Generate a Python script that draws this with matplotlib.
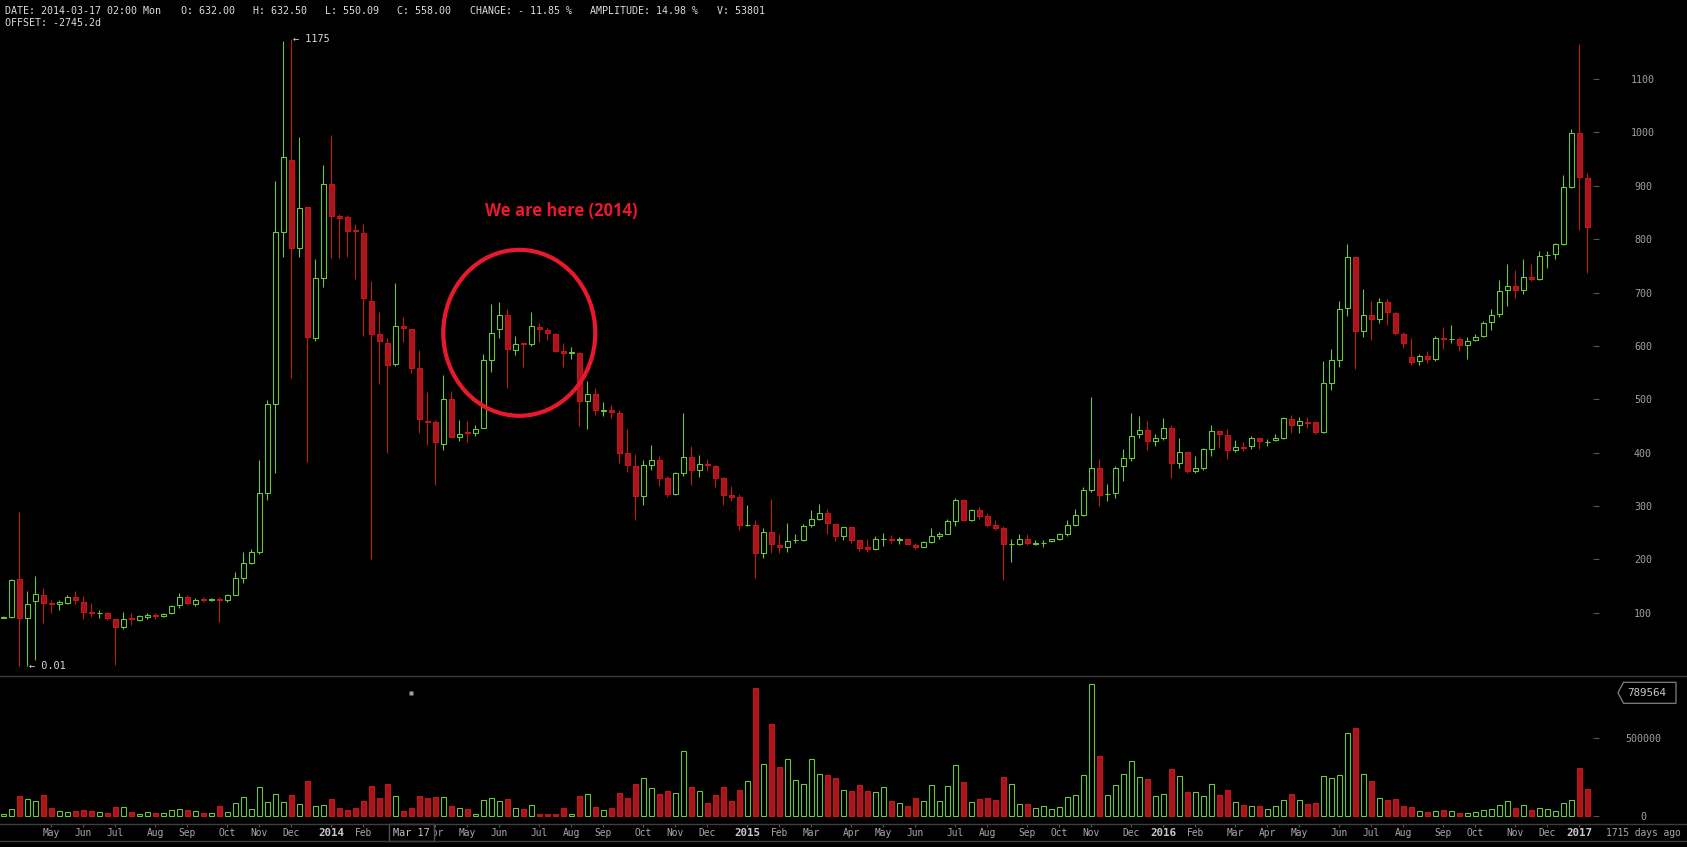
import numpy as np
import pandas as pd
import matplotlib
matplotlib.use("Agg")
import matplotlib.pyplot as plt
import matplotlib.transforms as mtransforms
from matplotlib.lines import Line2D
from matplotlib.patches import Ellipse, Rectangle, Polygon

# weekly OHLC, one candle per week starting 2013-03-25
opens = [91, 92, 163, 90, 122, 133, 118, 117, 119, 129,
         121, 102, 99, 100, 88, 74, 90, 86, 92, 95,
         94, 99, 114, 129, 117, 125, 123, 126, 123, 133,
         166, 194, 214, 324, 492, 814, 949, 784, 860, 614,
         727, 904, 843, 841, 817, 812, 685, 622, 605, 566,
         637, 632, 558, 460, 457, 417, 500, 430, 438, 437,
         447, 574, 632, 657, 593, 606, 603, 636, 630, 623,
         590, 587, 586, 497, 509, 478, 480, 475, 399, 374,
         319, 377, 387, 352, 323, 362, 391, 368, 379, 374,
         352, 320, 316, 264, 265, 211, 252, 226, 224, 236,
         237, 264, 276, 286, 267, 243, 260, 236, 224, 219,
         238, 239, 237, 239, 227, 224, 233, 244, 248, 272,
         311, 274, 292, 281, 264, 258, 228, 229, 239, 229,
         230, 234, 238, 247, 264, 284, 330, 372, 322, 325,
         374, 390, 434, 442, 422, 427, 447, 381, 401, 366,
         372, 407, 440, 433, 404, 411, 412, 427, 419, 423,
         428, 463, 451, 458, 457, 438, 530, 574, 671, 766,
         627, 657, 650, 682, 661, 622, 579, 572, 581, 575,
         614, 612, 612, 602, 611, 618, 644, 659, 704, 713,
         704, 729, 725, 770, 772, 791, 898, 999, 915]
highs = [93, 163, 289, 141, 168, 147, 124, 123, 133, 141,
         131, 119, 106, 101, 89, 101, 99, 95, 99, 99,
         100, 115, 137, 133, 128, 129, 128, 129, 135, 177,
         214, 220, 387, 498, 909, 1171, 1175, 992, 863, 762,
         939, 996, 848, 845, 829, 829, 722, 663, 614, 718,
         654, 632.5, 593, 513, 461, 545, 515, 462, 459, 451,
         584, 678, 683, 670, 618, 607, 663, 642, 633, 625,
         605, 597, 589, 534, 522, 495, 489, 479, 445, 397,
         386, 414, 394, 357, 364, 474, 412, 396, 388, 377,
         355, 337, 322, 302, 274, 259, 314, 247, 268, 247,
         266, 292, 304, 294, 269, 261, 262, 236, 238, 244,
         249, 246, 241, 240, 231, 234, 259, 251, 276, 315,
         312, 295, 298, 287, 274, 262, 238, 248, 248, 236,
         237, 239, 249, 274, 294, 335, 504, 388, 341, 375,
         407, 474, 469, 459, 435, 465, 451, 427, 401, 394,
         409, 452, 442, 444, 424, 420, 432, 428, 426, 435,
         466, 471, 466, 466, 458, 571, 595, 684, 790, 766,
         707, 684, 690, 687, 663, 626, 615, 584, 590, 618,
         636, 640, 616, 616, 622, 646, 670, 723, 753, 743,
         763, 754, 777, 778, 793, 921, 1007, 1166, 924]
lows = [90, 91, 1, 0.01, 12, 80, 99, 105, 116, 117,
        89, 92, 91, 86, 2, 69, 77, 84, 89, 88,
        92, 97, 109, 115, 113, 120, 122, 83, 121, 133,
        156, 191, 210, 312, 361, 767, 539, 767, 382, 609,
        711, 764, 765, 767, 726, 619, 200, 528, 399, 562,
        607, 550.09, 437, 414, 339, 405, 429, 422, 419, 432,
        446, 552, 615, 522, 582, 561, 599, 608, 611, 589,
        560, 575, 450, 444, 470, 469, 464, 381, 364, 274,
        301, 367, 338, 316, 321, 357, 339, 355, 366, 336,
        302, 309, 255, 262, 166, 203, 211, 211, 214, 230,
        235, 260, 274, 247, 234, 236, 230, 216, 214, 218,
        225, 231, 229, 227, 220, 223, 231, 238, 247, 262,
        271, 272, 276, 261, 255, 161, 195, 226, 227, 227,
        224, 232, 237, 244, 262, 281, 327, 300, 310, 315,
        346, 384, 428, 405, 413, 424, 353, 372, 361, 362,
        368, 394, 409, 388, 402, 403, 407, 407, 412, 421,
        426, 436, 436, 446, 434, 436, 517, 561, 656, 556,
        616, 611, 643, 640, 621, 596, 565, 564, 568, 572,
        595, 605, 591, 575, 609, 616, 629, 654, 675, 689,
        698, 722, 723, 746, 763, 789, 895, 817, 737]
closes = [92, 161, 90, 117, 135, 118, 116, 121, 129, 124,
          101, 100, 100, 90, 74, 89, 88, 93, 96, 94,
          98, 113, 129, 118, 124, 123, 126, 124, 133, 166,
          194, 214, 324, 492, 814, 953, 784, 858, 616, 727,
          904, 843, 840, 816, 815, 689, 622, 609, 565, 637,
          633, 558, 463, 458, 419, 500, 430, 434, 436, 445,
          573, 625, 657, 595, 603, 604, 637, 631, 625, 590,
          586, 588, 497, 509, 479, 480, 477, 400, 377, 319,
          376, 387, 353, 323, 362, 391, 368, 378, 377, 353,
          321, 317, 264, 265, 211, 252, 228, 224, 234, 237,
          262, 275, 286, 269, 243, 260, 236, 222, 220, 239,
          239, 236, 239, 229, 224, 232, 243, 247, 271, 311,
          274, 292, 282, 264, 259, 228, 229, 239, 231, 230,
          231, 238, 247, 264, 284, 330, 372, 321, 323, 372,
          390, 432, 442, 422, 427, 447, 381, 401, 366, 371,
          407, 440, 434, 404, 410, 409, 427, 422, 420, 428,
          464, 451, 459, 456, 438, 530, 574, 670, 766, 627,
          657, 650, 682, 663, 624, 605, 570, 581, 575, 615,
          612, 613, 601, 610, 616, 642, 657, 702, 713, 704,
          729, 725, 768, 771, 790, 897, 999, 916, 822]
# volume in thousands
volumes_k = [12, 45, 130, 110, 97, 136, 52, 32, 26, 32,
             39, 32, 26, 19, 55, 55, 26, 13, 26, 19,
             19, 39, 45, 39, 32, 19, 19, 65, 26, 84,
             123, 45, 188, 91, 143, 91, 136, 78, 224, 65,
             71, 110, 52, 39, 52, 97, 192, 117, 205, 130,
             32, 53.801, 130, 114, 120, 120, 62, 49, 45, 12,
             101, 114, 94, 107, 49, 45, 69, 12, 12, 12,
             49, 12, 127, 139, 56, 36, 49, 146, 114, 204,
             243, 178, 139, 159, 146, 416, 185, 159, 82, 133,
             185, 94, 165, 223, 822, 335, 592, 315, 365, 232,
             204, 365, 270, 263, 245, 167, 161, 200, 161, 152,
             187, 97, 82, 64, 116, 97, 200, 97, 193, 328,
             219, 90, 109, 116, 103, 251, 206, 77, 77, 52,
             64, 45, 58, 122, 135, 264, 850, 386, 135, 200,
             270, 354, 251, 238, 129, 142, 303, 258, 155, 155,
             129, 206, 135, 167, 90, 71, 64, 64, 45, 64,
             103, 141, 103, 77, 83, 256, 244, 263, 535, 567,
             269, 224, 115, 103, 109, 64, 58, 32, 26, 32,
             38, 32, 19, 19, 26, 38, 45, 71, 96, 51,
             71, 38, 51, 45, 32, 83, 103, 311, 173]

price_ticks = [100, 200, 300, 400, 500, 600, 700, 800, 900, 1000, 1100]
vol_ticks = [0, 500000]
vol_label = "789564"
cursor_week = 51
header = [("DATE: 2014-03-17 02:00 Mon", 5), ("O: 632.00", 181), ("H: 632.50", 252.6),
          ("L: 550.09", 325), ("C: 558.00", 397), ("CHANGE: - 11.85 %", 470),
          ("AMPLITUDE: 14.98 %", 590), ("V: 53801", 717)]

GREEN = "#6cc83a"
RED = "#c4161c"
RED_FILL = "#a8141a"
GRID = "#3e3e3e"
MONO = "DejaVu Sans Mono"

o = np.array(opens, float)
h = np.array(highs, float)
l = np.array(lows, float)
c = np.array(closes, float)
v = np.array(volumes_k) * 1000
x = np.arange(len(o))
up = c >= o
dates = pd.date_range("2013-03-25", periods=len(o), freq="W-MON")

W, H = 1687, 847
fig = plt.figure(figsize=(W / 100, H / 100), dpi=100, facecolor="black")


def fx(px):
    return px / W


def fy(py):
    return 1 - py / H


ax = fig.add_axes([0, fy(675.7), fx(1599), fy(30) - fy(675.7)], facecolor="black")
axv = fig.add_axes([0, fy(824.3), fx(1599), fy(675.7) - fy(824.3)], facecolor="black", sharex=ax)
ax.set_xlim(-0.41, 199.46)
ax.set_ylim(-18.0, 1191.9)
axv.set_ylim(-53400, 902800)

for a in (ax, axv):
    for s in a.spines.values():
        s.set_visible(False)

# candles
ax.vlines(x, l, h, colors=np.where(up, GREEN, RED), lw=0.8, zorder=1)
lo = np.minimum(o, c)
hh = np.abs(c - o)
ax.bar(x[up], hh[up], bottom=lo[up], width=0.6, facecolor="black", edgecolor=GREEN, lw=0.8, zorder=2)
ax.bar(x[~up], hh[~up], bottom=lo[~up], width=0.6, facecolor=RED_FILL, edgecolor=RED, lw=0.8, zorder=2)

# volume
axv.bar(x[up], v[up], width=0.6, facecolor="black", edgecolor=GREEN, lw=0.8)
axv.bar(x[~up], v[~up], width=0.6, facecolor=RED_FILL, edgecolor=RED, lw=0.8)

# right axes
for a, ticks in ((ax, price_ticks), (axv, vol_ticks)):
    a.yaxis.tick_right()
    a.set_yticks(ticks, [str(t) for t in ticks], ha="center")
    a.tick_params(axis="y", direction="in", length=4.3, width=0.8, color="#555555",
                  pad=31.7, labelsize=7.2, labelcolor="#a0a0a0")
    for t in a.get_yticklabels():
        t.set_family(MONO)

# date axis: first week of every month; the one under the cursor box is hidden
ms = np.r_[False, dates.month[1:] != dates.month[:-1]]
tick_idx = [i for i in np.flatnonzero(ms) if i >= 3 and abs(i - cursor_week) > 2]
tick_lab = [str(d.year) if d.month == 1 else d.strftime("%b") for d in dates[tick_idx]]
ax.tick_params(axis="x", bottom=False, labelbottom=False)
axv.set_xticks(tick_idx, tick_lab)
axv.tick_params(axis="x", direction="out", length=2.2, width=0.8, color="#555555",
                pad=0.6, labelsize=6.9, labelcolor="#a8a8a8")
for t in axv.get_xticklabels():
    t.set_family(MONO)
    if t.get_text().isdigit():
        t.set_fontweight("bold")
        t.set_fontsize(7.8)
        t.set_color("#c8c8c8")

# separator lines
for py in (675.7, 824.3, 841):
    fig.add_artist(Line2D([0, 1], [fy(py), fy(py)], color=GRID, lw=1.0))

# header
for txt, px in header:
    fig.text(fx(px), fy(11), txt, family=MONO, fontsize=7.2, color="#dcdcdc", va="center", ha="left")
fig.text(fx(5), fy(23), "OFFSET: -2745.2d", family=MONO, fontsize=7.2, color="#dcdcdc", va="center", ha="left")

# extremes
imax, imin = int(np.argmax(h)), int(np.argmin(l))
ax.text(x[imax] + 0.2, h[imax], "\u2190 " + str(int(h[imax])), family=MONO, fontsize=7.4,
        color="#d8d8d8", va="center", ha="left")
ax.text(x[imin] + 0.2, l[imin], "\u2190 " + f"{l[imin]:.2f}", family=MONO, fontsize=7.4,
        color="#d8d8d8", va="center", ha="left")

# annotation
ax.add_patch(Ellipse((64.5, 624.5), width=19, height=311, fill=False, ec="#e8192c", lw=3, zorder=5))
ax.text(69.8, 852.7, "We are here (2014)", family="Open Sans", fontweight="bold", fontsize=12,
        color="#e8192c", ha="center", va="center")

# cursor
axv.plot([cursor_week], [790000], marker="s", ms=3.2, color="#a0a0a0", mec="none")
bt = mtransforms.blended_transform_factory(axv.transData, fig.transFigure)
axv.add_patch(Rectangle((cursor_week - 2.8, fy(841)), 5.6, fy(824.3) - fy(841), transform=bt,
                        facecolor="black", edgecolor="#555555", lw=1.0, clip_on=False, zorder=6))
axv.text(cursor_week, fy(833), dates[cursor_week].strftime("%b %d"), transform=bt, family=MONO,
         fontsize=7.4, color="#c0c0c0", ha="center", va="center", clip_on=False, zorder=7)

# max volume tag
tag = [(1618, 692.7), (1623.5, 682.3), (1676, 682.3), (1676, 703.3), (1623.5, 703.3)]
fig.add_artist(Polygon([(fx(a), fy(b)) for a, b in tag], closed=True, transform=fig.transFigure,
                       facecolor="black", edgecolor="#808080", lw=0.9))
fig.text(fx(1647), fy(692.7), vol_label, family=MONO, fontsize=7.8, color="#c8c8c8", ha="center", va="center")

fig.text(fx(1643), fy(833), "1715 days ago", family=MONO, fontsize=6.9, color="#a8a8a8", ha="center", va="center")

fig.savefig("out.png", dpi=100, facecolor="black")
